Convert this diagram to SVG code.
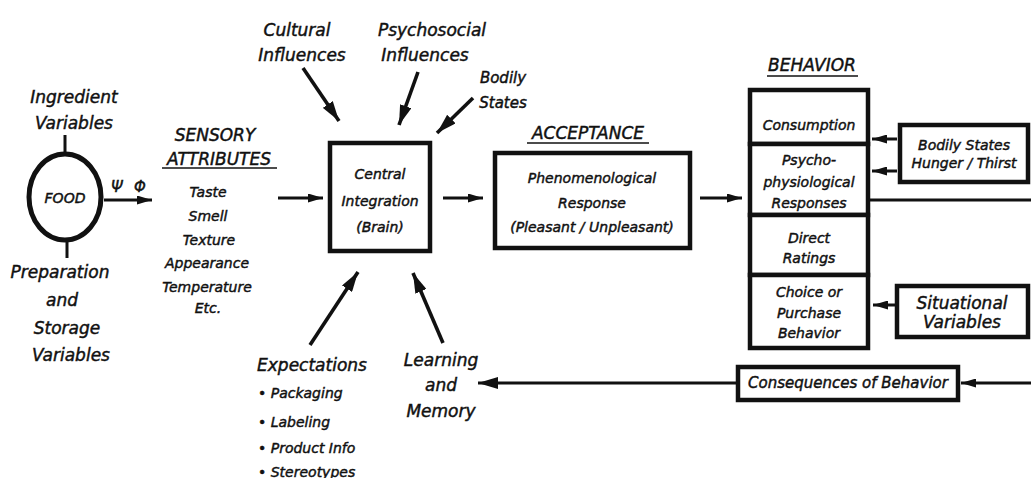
<svg xmlns="http://www.w3.org/2000/svg" width="1031" height="478" viewBox="0 0 1031 478">
<style>
.t{font-family:"DejaVu Sans","Liberation Sans",sans-serif;font-style:oblique;fill:#111;stroke:#111;stroke-width:0.45;text-anchor:middle}
.l{font-size:17px}
.m{font-size:15px}
.s{font-size:14px}
.b{fill:#fff;stroke:#111;stroke-width:4.5}
.c{stroke:#111;stroke-width:3;fill:none}
.d{stroke:#111;stroke-width:3.6;fill:none}
.u{stroke:#111;stroke-width:1.6}
</style>
<defs>
<marker id="ah" markerUnits="userSpaceOnUse" markerWidth="20" markerHeight="12" refX="20" refY="6" orient="auto">
<path d="M0,0 L20,6 L0,12 z" fill="#111"/>
</marker>
<marker id="as" markerUnits="userSpaceOnUse" markerWidth="15" markerHeight="9" refX="15" refY="4.5" orient="auto">
<path d="M0,0 L15,4.5 L0,9 z" fill="#111"/>
</marker>
</defs>
<rect width="1031" height="478" fill="#fff"/>

<g id="connectors">
<line class="c" x1="65" y1="135" x2="65" y2="154"/>
<line class="c" x1="67" y1="240" x2="67" y2="258"/>
<line class="c" x1="104" y1="200" x2="152" y2="200" marker-end="url(#as)"/>
<line class="c" x1="278" y1="198" x2="323" y2="198" marker-end="url(#as)"/>
<line class="d" x1="303" y1="68" x2="339" y2="121" marker-end="url(#ah)"/>
<line class="d" x1="418" y1="72" x2="399" y2="125" marker-end="url(#ah)"/>
<line class="d" x1="473" y1="98" x2="437" y2="133" marker-end="url(#ah)"/>
<line class="d" x1="310" y1="345" x2="358" y2="272" marker-end="url(#ah)"/>
<line class="d" x1="443" y1="343" x2="413" y2="273" marker-end="url(#ah)"/>
<line class="c" x1="443" y1="198" x2="483" y2="198" marker-end="url(#as)"/>
<line class="c" x1="700" y1="198" x2="742" y2="198" marker-end="url(#as)"/>
<line class="c" x1="897" y1="139" x2="872" y2="139" marker-end="url(#as)"/>
<line class="c" x1="897" y1="171" x2="872" y2="171" marker-end="url(#as)"/>
<line class="c" x1="897" y1="305" x2="873" y2="305" marker-end="url(#as)"/>
<line class="c" x1="868" y1="200" x2="1031" y2="200"/>
<line class="c" x1="1031" y1="383" x2="961" y2="383" marker-end="url(#as)"/>
<line class="c" x1="738" y1="383" x2="478" y2="383" marker-end="url(#ah)"/>
</g>

<g id="ingredient">
<text class="t l" x="74" y="103">Ingredient</text>
<text class="t l" x="74" y="129">Variables</text>
</g>
<g id="food">
<ellipse cx="65" cy="197" rx="36" ry="43" fill="#fff" stroke="#111" stroke-width="5"/>
<text class="t s" x="65" y="203">FOOD</text>
</g>
<g id="psi-phi">
<text class="t m" x="117" y="192">Ψ</text>
<text class="t m" x="140" y="192">Φ</text>
</g>
<g id="preparation">
<text class="t l" x="60" y="278">Preparation</text>
<text class="t l" x="62" y="306">and</text>
<text class="t l" x="67" y="334">Storage</text>
<text class="t l" x="71" y="361">Variables</text>
</g>
<g id="sensory">
<text class="t l" x="215" y="141">SENSORY</text>
<text class="t l" x="219" y="165">ATTRIBUTES</text>
<line class="u" x1="162" y1="168" x2="277" y2="168"/>
<text class="t s" x="208" y="197">Taste</text>
<text class="t s" x="208" y="221">Smell</text>
<text class="t s" x="209" y="245">Texture</text>
<text class="t s" x="207" y="268">Appearance</text>
<text class="t s" x="207" y="292">Temperature</text>
<text class="t s" x="208" y="313">Etc.</text>
</g>
<g id="cultural">
<text class="t l" x="297" y="36">Cultural</text>
<text class="t l" x="302" y="61">Influences</text>
</g>
<g id="psychosocial">
<text class="t l" x="432" y="36">Psychosocial</text>
<text class="t l" x="425" y="61">Influences</text>
</g>
<g id="bodily-states-top">
<text class="t m" x="503" y="83">Bodily</text>
<text class="t m" x="503" y="108">States</text>
</g>
<g id="central">
<rect class="b" x="330" y="143" width="100" height="108"/>
<text class="t s" x="380" y="179">Central</text>
<text class="t s" x="380" y="206">Integration</text>
<text class="t s" x="380" y="232">(Brain)</text>
</g>
<g id="acceptance">
<text class="t l" x="588" y="139">ACCEPTANCE</text>
<line class="u" x1="527" y1="143" x2="649" y2="143"/>
<rect class="b" x="495" y="153" width="195" height="95"/>
<text class="t s" x="592" y="183">Phenomenological</text>
<text class="t s" x="592" y="208">Response</text>
<text class="t s" x="592" y="232">(Pleasant / Unpleasant)</text>
</g>
<g id="behavior">
<text class="t l" x="812" y="71">BEHAVIOR</text>
<line class="u" x1="767" y1="76" x2="858" y2="76"/>
<rect class="b" x="750" y="90" width="118" height="54"/>
<rect class="b" x="750" y="144" width="118" height="71"/>
<rect class="b" x="750" y="215" width="118" height="60"/>
<rect class="b" x="750" y="275" width="118" height="73"/>
<text class="t s" x="809" y="130">Consumption</text>
<text class="t s" x="809" y="165">Psycho-</text>
<text class="t s" x="809" y="187">physiological</text>
<text class="t s" x="809" y="208">Responses</text>
<text class="t s" x="809" y="243">Direct</text>
<text class="t s" x="809" y="263">Ratings</text>
<text class="t s" x="809" y="297">Choice or</text>
<text class="t s" x="809" y="318">Purchase</text>
<text class="t s" x="809" y="338">Behavior</text>
</g>
<g id="bodily-hunger">
<rect class="b" x="900" y="125" width="128" height="57"/>
<text class="t s" x="964" y="150">Bodily States</text>
<text class="t s" x="964" y="168">Hunger / Thirst</text>
</g>
<g id="situational">
<rect class="b" x="897" y="286" width="131" height="51"/>
<text class="t l" x="962" y="309">Situational</text>
<text class="t l" x="962" y="328">Variables</text>
</g>
<g id="consequences">
<rect class="b" x="738" y="367" width="220" height="33"/>
<text class="t m" x="848" y="388">Consequences of Behavior</text>
</g>
<g id="expectations">
<text class="t l" x="312" y="371">Expectations</text>
<text class="t s" x="258" y="398" style="text-anchor:start">• Packaging</text>
<text class="t s" x="258" y="427" style="text-anchor:start">• Labeling</text>
<text class="t s" x="258" y="453" style="text-anchor:start">• Product Info</text>
<text class="t s" x="258" y="477" style="text-anchor:start">• Stereotypes</text>
</g>
<g id="learning">
<text class="t l" x="441" y="366">Learning</text>
<text class="t l" x="441" y="391">and</text>
<text class="t l" x="441" y="417">Memory</text>
</g>
</svg>
